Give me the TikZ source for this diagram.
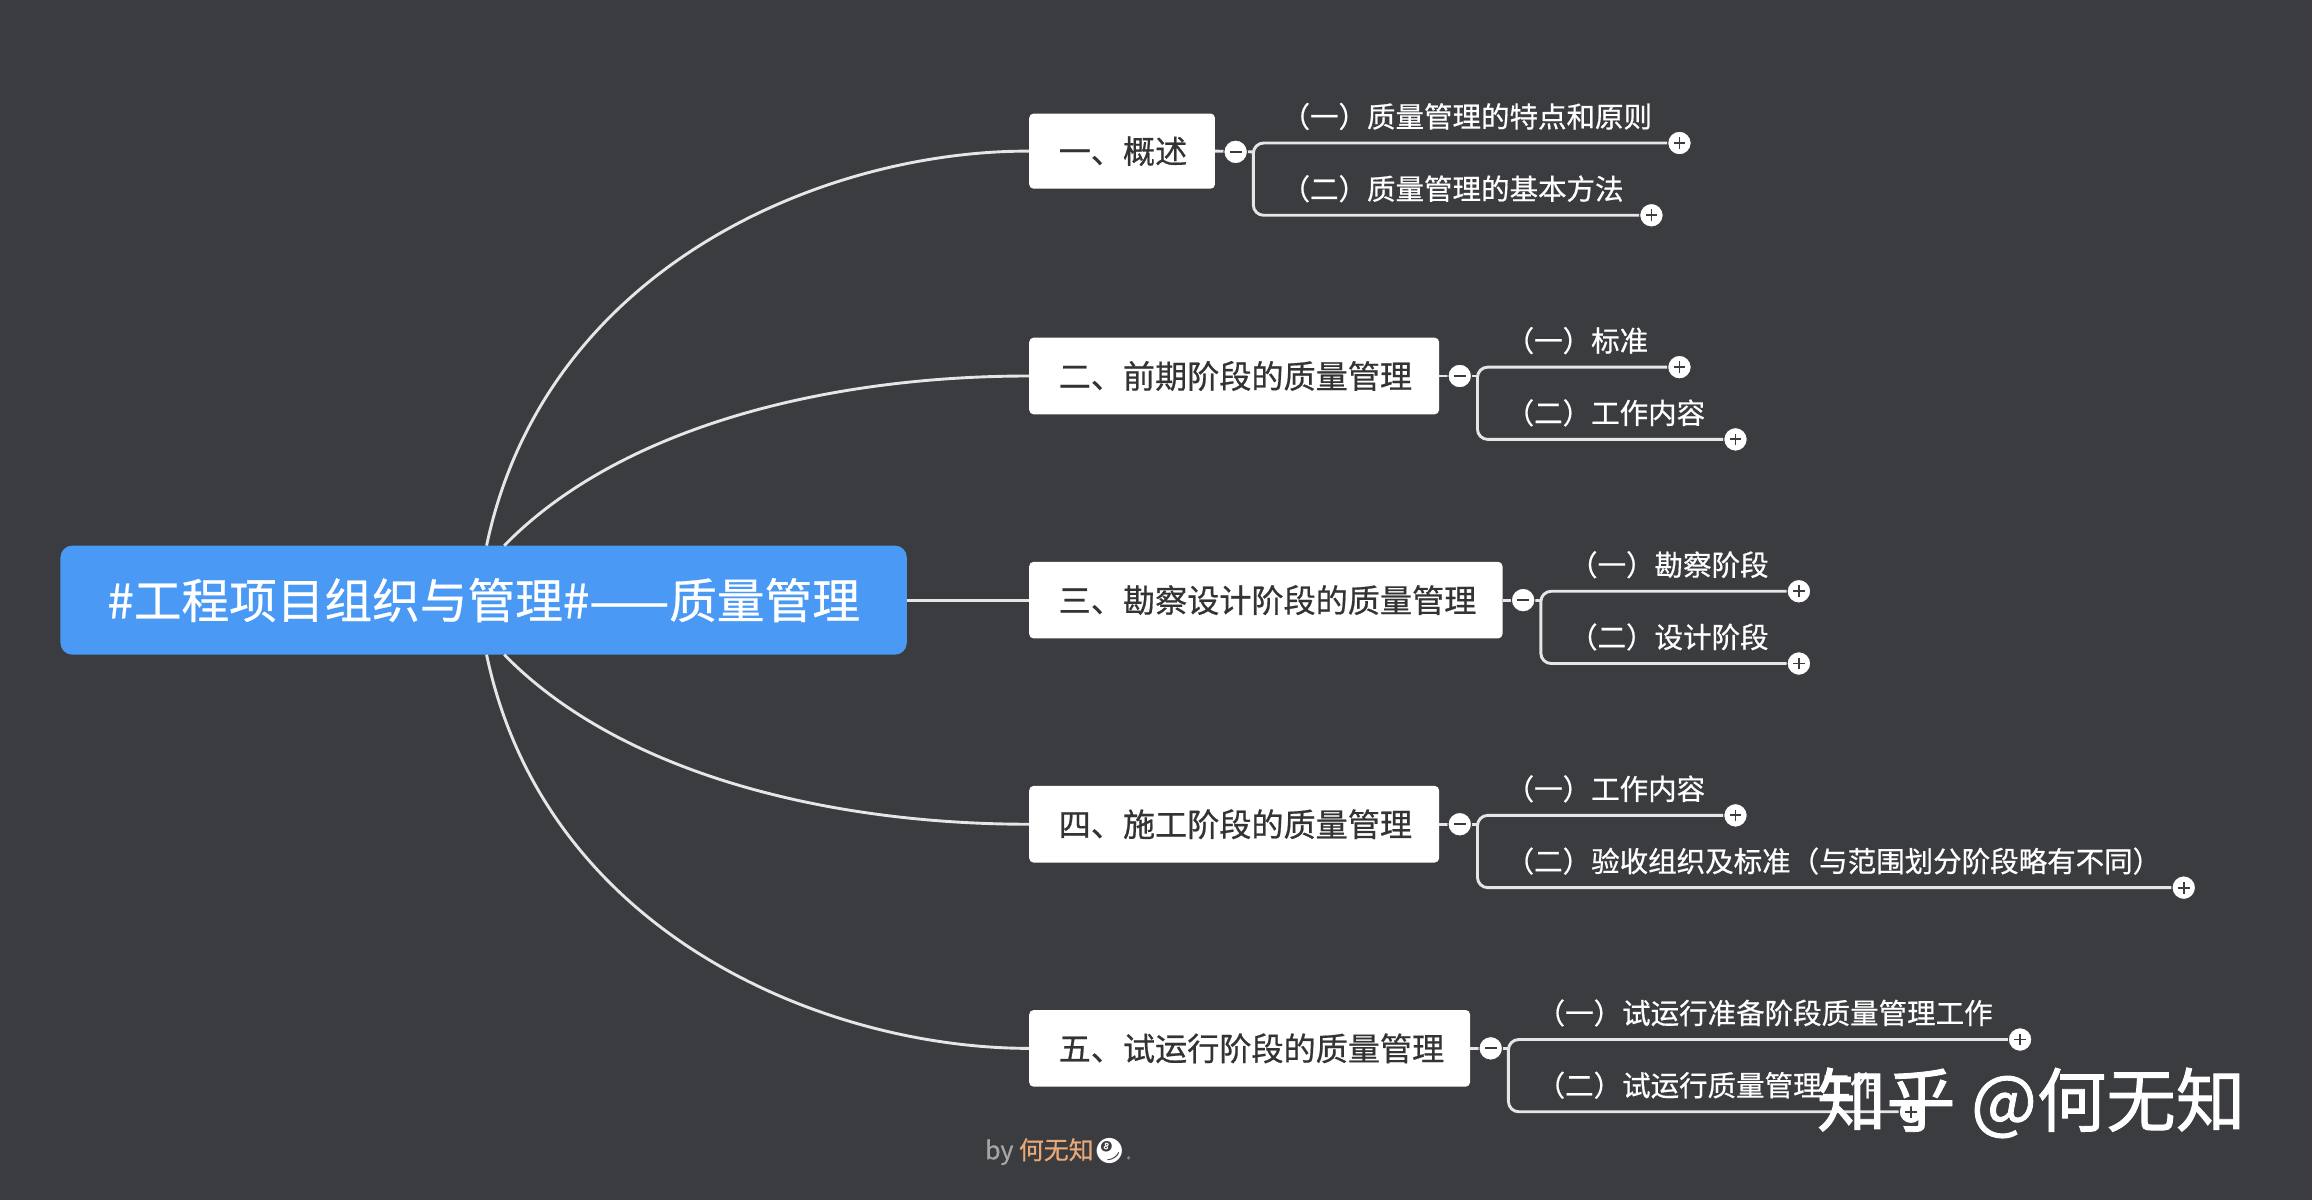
\documentclass[tikz,border=0pt]{standalone}
\usepackage{fontspec}
\newfontfamily\cjk[FakeBold=0.6]{Noto Sans CJK SC}
\newfontfamily\cjkb[FakeBold=1.2]{Noto Sans CJK SC}
\newfontfamily\emo{Noto Emoji}
\definecolor{bg}{HTML}{3A3C40}
\definecolor{cblue}{HTML}{4A9AF5}
\definecolor{ln}{HTML}{E6E6E6}
\definecolor{orng}{HTML}{E8A878}
\begin{document}
\begin{tikzpicture}[x=0.05cm,y=-0.05cm,
  br/.style={fill=white,rounded corners=0.15cm,inner sep=0,font=\cjk\fontsize{31}{36}\selectfont,text=black!80,text width=#1,align=left},
  ch/.style={anchor=west,inner sep=0,font=\cjk\fontsize{27.5}{32}\selectfont,text=white},
  cl/.style={line width=2.8pt,draw=ln},
  mn/.style={circle,fill=white,draw=bg,line width=1pt,minimum size=0.8cm,inner sep=0}]
\fill[bg] (0,0) rectangle (1568,814);
\useasboundingbox (0,0) rectangle (1568,814);
\node[fill=cblue,rounded corners=0.4cm,minimum width=28.7cm,minimum height=3.7cm,text=white,font=\cjk\fontsize{46}{52}\selectfont] (c) at (328,407) {\#工程项目组织与管理\#——质量管理};
\coordinate (ct1) at (330,370); \coordinate (ct2) at (342,370);
\coordinate (cb4) at (342,444); \coordinate (cb5) at (330,444);
% branches
\node[br=4.3cm,minimum width=6.3cm,minimum height=2.55cm] (b1) at (761,102.5) {一、概述};
\node[br=11.9cm,minimum width=13.9cm,minimum height=2.6cm] (b2) at (837,255) {二、前期阶段的质量管理};
\node[br=14.05cm,minimum width=16.05cm,minimum height=2.6cm] (b3) at (858.5,407) {三、勘察设计阶段的质量管理};
\node[br=11.9cm,minimum width=13.9cm,minimum height=2.6cm] (b4) at (837,559) {四、施工阶段的质量管理};
\node[br=12.95cm,minimum width=14.95cm,minimum height=2.6cm] (b5) at (847.5,711) {五、试运行阶段的质量管理};
\draw[cl] (ct1) .. controls (370,180) and (560,102) .. (b1.west);
\draw[cl] (ct2) .. controls (420,290) and (560,255) .. (b2.west);
\draw[cl] (c.east) -- (b3.west);
\draw[cl] (cb4) .. controls (420,524) and (560,559) .. (b4.west);
\draw[cl] (cb5) .. controls (370,634) and (560,711) .. (b5.west);
\foreach \i/\mx/\bx/\yc/\ta/\tb/\pa/\pb in {
 1/838/850/103/{（一）质量管理的特点和原则}/{（二）质量管理的基本方法}/1139/1120,
 2/990/1002/255/{（一）标准}/{（二）工作内容}/1139/1177,
 3/1033/1045/407/{（一）勘察阶段}/{（二）设计阶段}/1220/1220,
 4/990/1002/559/{（一）工作内容}/{（二）验收组织及标准（与范围划分阶段略有不同）}/1177/1481,
 5/1011/1023/711/{（一）试运行准备阶段质量管理工作}/{（二）试运行质量管理工作}/1370/1296}{
  \coordinate (m\i) at (\mx,\yc);
  \node[ch] (ta\i) at (\bx+19,\yc-24) {\ta};
  \node[ch] (tb\i) at (\bx+19,\yc+25) {\tb};
  \node[mn] (pa\i) at (\pa,\yc-6) {};
  \node[mn] (pb\i) at (\pb,\yc+43) {};
  \draw[cl,rounded corners=0.35cm] (pa\i.west) -- (\bx,\yc-6) -- (\bx,\yc+43) -- (pb\i.west);
  \draw[cl] (b\i.east) -- (\bx,\yc);
  \node[mn] (mm\i) at (m\i) {};
  \draw[bg,line width=1.8pt] ([xshift=-0.2cm]mm\i.center) -- ([xshift=0.2cm]mm\i.center);
  \draw[bg,line width=1.8pt] ([xshift=-0.2cm]pa\i.center) -- ([xshift=0.2cm]pa\i.center) ([yshift=-0.2cm]pa\i.center) -- ([yshift=0.2cm]pa\i.center);
  \draw[bg,line width=1.8pt] ([xshift=-0.2cm]pb\i.center) -- ([xshift=0.2cm]pb\i.center) ([yshift=-0.2cm]pb\i.center) -- ([yshift=0.2cm]pb\i.center);
}
\node[anchor=west,inner sep=0,font=\cjk\fontsize{24}{28}\selectfont] (by) at (668,781) {\textcolor{gray!70}{by} \textcolor{orng}{何无知}\textcolor{white}{\emo 🎱}\textcolor{gray}{ .}};
\node[anchor=west,inner sep=0,text=white,font=\cjkb\fontsize{67}{76}\selectfont] (wm) at (1232,748) {知乎 @何无知};
\end{tikzpicture}
\end{document}
